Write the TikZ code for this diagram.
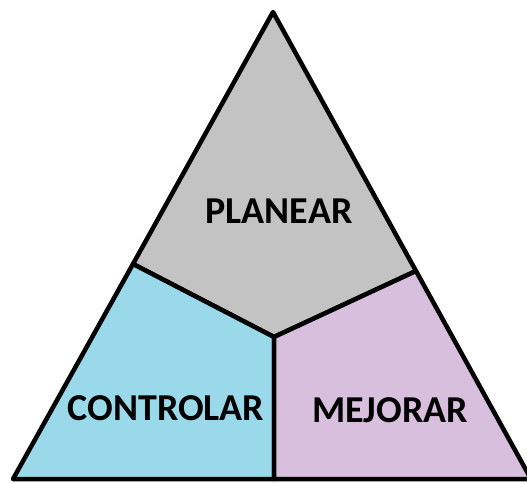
\documentclass[tikz,border=0pt]{standalone}
\usepackage{fontspec}
\setmainfont{Carlito}
\definecolor{topgray}{RGB}{195,195,195}
\definecolor{leftblue}{RGB}{153,217,234}
\definecolor{rightpink}{RGB}{216,191,222}
\tikzset{
  region/.style={draw=black, line width=4.5pt, line join=round},
  label/.style={font=\bfseries\fontsize{38}{41}\selectfont, inner sep=0pt}
}
\begin{document}
\begin{tikzpicture}[x=1pt,y=-1pt]
\useasboundingbox (0,0) rectangle (527,482);
\clip (0,0) rectangle (527,482);
\fill[white] (0,0) rectangle (527,482);
\coordinate (apex) at (273,12);
\coordinate (lj) at (133,264);
\coordinate (rj) at (416,271);
\coordinate (mid) at (274,337);
\coordinate (bl) at (13,479);
\coordinate (bm) at (274,479);
\coordinate (br) at (531,479);
\filldraw[region, fill=topgray] (apex) -- (lj) -- (mid) -- (rj) -- cycle;
\filldraw[region, fill=leftblue] (lj) -- (bl) -- (bm) -- (mid) -- cycle;
\filldraw[region, fill=rightpink] (mid) -- (bm) -- (br) -- (rj) -- cycle;
\node[label] (planear) at (279,211) {PLANEAR};
\node[label] (controlar) at (166,408) {CONTROLAR};
\node[label] (mejorar) at (390,410) {MEJORAR};
\end{tikzpicture}
\end{document}
